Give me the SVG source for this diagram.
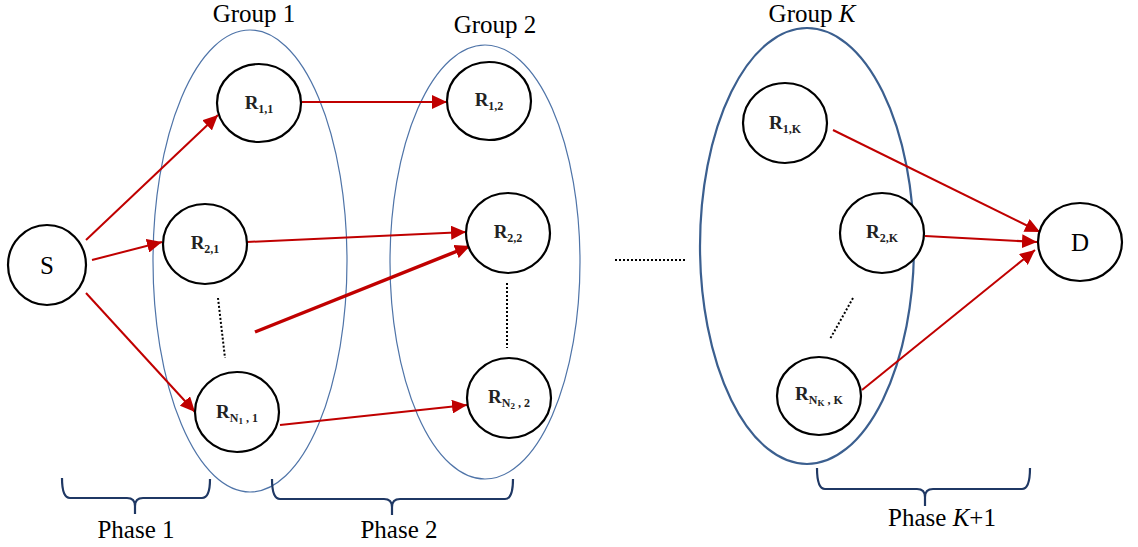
<svg xmlns="http://www.w3.org/2000/svg" width="1138" height="547" viewBox="0 0 1138 547">
<style>
.grp{fill:none;stroke:#4f74a8;stroke-width:1.2}
.grpk{fill:none;stroke:#3b5f8f;stroke-width:2.2}
.node{fill:#fff;stroke:#000;stroke-width:2.2}
.lbl{font-family:"Liberation Serif",serif;font-size:19px;font-weight:bold;fill:#222}
.sub{font-size:12px}
.ssub{font-size:9px}
.big{font-family:"Liberation Serif",serif;font-size:25px;fill:#000}
.arr{stroke:#c00000;stroke-width:2;fill:none;marker-end:url(#ah)}
.dot{stroke:#000;stroke-width:2;stroke-dasharray:2 2;fill:none}
.brace{fill:none;stroke:#1f3864;stroke-width:2.2;stroke-linejoin:round}
</style>
<defs>
<marker id="ah" markerUnits="userSpaceOnUse" markerWidth="16" markerHeight="14" refX="15" refY="7" orient="auto">
<path d="M0,0 L15,7 L0,14 Z" fill="#c00000"/>
</marker>
</defs>
<rect width="1138" height="547" fill="#fff"/>
<g id="group1"><ellipse class="grp" cx="250" cy="261" rx="97" ry="231"/><text class="big" x="254" y="22" text-anchor="middle">Group 1</text></g>
<g id="group2"><ellipse class="grp" cx="485" cy="262" rx="95" ry="217"/><text class="big" x="495" y="33" text-anchor="middle">Group 2</text></g>
<g id="groupK"><ellipse class="grpk" cx="807" cy="246" rx="107" ry="218"/><text class="big" x="812" y="22" text-anchor="middle">Group <tspan font-style="italic">K</tspan></text></g>
<g id="connectors">
<line class="arr" x1="86" y1="240" x2="218" y2="115"/>
<line class="arr" x1="92" y1="260" x2="162" y2="242"/>
<line class="arr" x1="86" y1="293" x2="195" y2="412"/>
<line class="arr" x1="302" y1="102" x2="447" y2="102"/>
<line class="arr" x1="247" y1="242" x2="466" y2="232"/>
<line class="arr" x1="255" y1="332" x2="470" y2="246" style="stroke-width:3.5"/>
<line class="arr" x1="280" y1="425" x2="467" y2="405"/>
<line class="arr" x1="833" y1="130" x2="1040" y2="232"/>
<line class="arr" x1="925" y1="236" x2="1037" y2="242"/>
<line class="arr" x1="862" y1="390" x2="1035" y2="250"/>
<line class="dot" x1="218" y1="298" x2="225" y2="358"/>
<line class="dot" x1="507" y1="283" x2="507" y2="348"/>
<line class="dot" x1="853" y1="298" x2="830" y2="339"/>
<line class="dot" x1="615" y1="260" x2="685" y2="260"/>
</g>
<g id="S"><ellipse class="node" cx="47" cy="265" rx="39" ry="40"/><text class="big" x="47" y="274" text-anchor="middle">S</text></g>
<g id="R11"><ellipse class="node" cx="259" cy="103" rx="42" ry="39"/><text class="lbl" x="259" y="109" text-anchor="middle">R<tspan class="sub" dy="4">1,1</tspan></text></g>
<g id="R21"><ellipse class="node" cx="205" cy="244" rx="42" ry="40"/><text class="lbl" x="205" y="249" text-anchor="middle">R<tspan class="sub" dy="4">2,1</tspan></text></g>
<g id="RN1"><ellipse class="node" cx="237" cy="412" rx="42" ry="40"/><text class="lbl" x="237" y="418" text-anchor="middle">R<tspan class="sub" dy="4">N</tspan><tspan class="ssub" dy="2">1</tspan><tspan class="sub" dy="-2"> , 1</tspan></text></g>
<g id="R12"><ellipse class="node" cx="489" cy="101" rx="42" ry="39"/><text class="lbl" x="489" y="106" text-anchor="middle">R<tspan class="sub" dy="4">1,2</tspan></text></g>
<g id="R22"><ellipse class="node" cx="508" cy="233" rx="42" ry="40"/><text class="lbl" x="508" y="238" text-anchor="middle">R<tspan class="sub" dy="4">2,2</tspan></text></g>
<g id="RN2"><ellipse class="node" cx="509" cy="398" rx="42" ry="40"/><text class="lbl" x="509" y="403" text-anchor="middle">R<tspan class="sub" dy="4">N</tspan><tspan class="ssub" dy="2">2</tspan><tspan class="sub" dy="-2"> , 2</tspan></text></g>
<g id="R1K"><ellipse class="node" cx="785" cy="123" rx="42" ry="40"/><text class="lbl" x="785" y="129" text-anchor="middle">R<tspan class="sub" dy="4">1,K</tspan></text></g>
<g id="R2K"><ellipse class="node" cx="882" cy="233" rx="42" ry="40"/><text class="lbl" x="882" y="238" text-anchor="middle">R<tspan class="sub" dy="4">2,K</tspan></text></g>
<g id="RNK"><ellipse class="node" cx="819" cy="396" rx="42" ry="39"/><text class="lbl" x="819" y="400" text-anchor="middle">R<tspan class="sub" dy="4">N</tspan><tspan class="ssub" dy="2">K</tspan><tspan class="sub" dy="-2"> , K</tspan></text></g>
<g id="D"><ellipse class="node" cx="1080" cy="242" rx="42" ry="39"/><text class="big" x="1080" y="251" text-anchor="middle">D</text></g>
<g id="phase1"><path class="brace" d="M62,478 Q62,498 70,498 L127,498 Q135,498 135,506 L135,514 M135,506 Q135,498 143,498 L202,498 Q210,498 210,479"/><text class="big" x="136" y="538" text-anchor="middle">Phase 1</text></g>
<g id="phase2"><path class="brace" d="M272,479 Q272,499 280,499 L384,499 Q392,499 392,507 L392,515 M392,507 Q392,499 400,499 L505,499 Q513,499 513,479"/><text class="big" x="399" y="538" text-anchor="middle">Phase 2</text></g>
<g id="phaseK1"><path class="brace" d="M817,468 Q817,489 825,489 L917,489 Q925,489 925,497 L925,506 M925,497 Q925,489 933,489 L1022,489 Q1030,489 1030,468"/><text class="big" x="942" y="526" text-anchor="middle">Phase <tspan font-style="italic">K</tspan>+1</text></g>
</svg>
